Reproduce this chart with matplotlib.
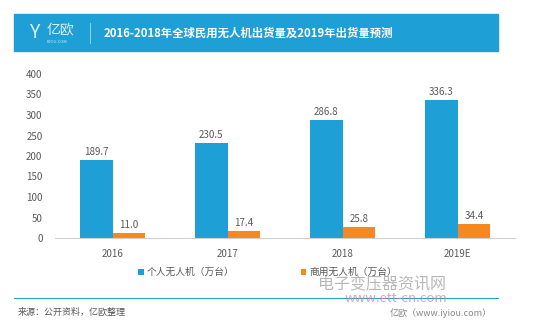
import matplotlib
matplotlib.use('Agg')
from matplotlib import pyplot as plt
from matplotlib.patches import Rectangle
import numpy as np

plt.rcParams['font.family'] = ['Noto Sans CJK SC', 'DejaVu Sans']

years = ['2016', '2017', '2018', '2019E']
personal = [189.7, 230.5, 286.8, 336.3]
commercial = [11.0, 17.4, 25.8, 34.4]
series_names = ['个人无人机（万台）', '商用无人机（万台）']
title = '2016-2018年全球民用无人机出货量及2019年出货量预测'

blue = '#1e9fd6'
orange = '#f5891f'
grey = '#595959'

fig = plt.figure(figsize=(5.41, 3.31), dpi=100)

# banner
fig.patches.append(Rectangle((14 / 541, 1 - 51 / 331), 484 / 541, 37 / 331,
                             transform=fig.transFigure, color=blue, zorder=0))
fig.text(47 / 541, 1 - 30 / 331, '亿欧', color='white', fontsize=10,
         va='center', ha='left', alpha=0.85)
fig.text(47 / 541, 1 - 42 / 331, 'IYIOU.COM', color='white', fontsize=3,
         va='center', ha='left', alpha=0.8)
fig.text(34 / 541, 1 - 33 / 331, 'Y', color='white', fontsize=14,
         va='center', ha='center', alpha=0.85)
fig.add_artist(plt.Line2D([90 / 541, 90 / 541], [1 - 43 / 331, 1 - 23 / 331],
                          transform=fig.transFigure, color='white', lw=0.6, alpha=0.6))
fig.text(104 / 541, 1 - 33 / 331, title, color='white', fontsize=8.2,
         fontweight='bold', va='center', ha='left')

ax = fig.add_axes([55 / 541, 1 - 238 / 331, 460 / 541, 164 / 331])
x = np.arange(len(years))
w = 0.286
b1 = ax.bar(x - w / 2, personal, w, color=blue, label=series_names[0])
b2 = ax.bar(x + w / 2, commercial, w, color=orange, label=series_names[1])
for bars, vals in ((b1, personal), (b2, commercial)):
    for r, v in zip(bars, vals):
        ax.text(r.get_x() + r.get_width() / 2, v + 8, '%.1f' % v,
                ha='center', va='bottom', fontsize=7, color=grey)

ax.set_xlim(-0.5, 3.5)
ax.set_ylim(0, 400)
ax.set_yticks(np.arange(0, 401, 50))
ax.set_xticks(x)
ax.set_xticklabels(years)
for s in ['top', 'right', 'left']:
    ax.spines[s].set_visible(False)
ax.spines['bottom'].set_color('#d0d0d0')
ax.tick_params(axis='both', length=0, labelsize=7, colors=grey)
ax.tick_params(axis='y', pad=9)
ax.tick_params(axis='x', pad=8)

ax.legend(loc='upper center', bbox_to_anchor=(0.462, -0.125), ncol=2,
          frameon=False, fontsize=7, handlelength=0.6, handleheight=0.6,
          columnspacing=6.8, handletextpad=0.3, labelcolor=grey)

# footer
fig.add_artist(plt.Line2D([14 / 541, 498 / 541], [1 - 298 / 331, 1 - 298 / 331],
                          transform=fig.transFigure, color=blue, lw=0.8))
fig.text(18 / 541, 1 - 312 / 331, '来源：公开资料，亿欧整理', fontsize=6.5,
         color=grey, va='center', ha='left')
fig.text(492 / 541, 1 - 313 / 331, '亿欧（www.iyiou.com）', fontsize=6.5,
         color='#888888', va='center', ha='right')

# watermark
fig.text(318 / 541, 1 - 285 / 331, '电子变压器资讯网', fontsize=11.5,
         color='#9a9a9a', alpha=0.7, va='center', ha='left')
fig.text(345 / 541, 1 - 299 / 331, 'www.ett-cn.com', fontsize=9.5,
         color='#e07a8a', alpha=0.7, va='center', ha='left')

plt.savefig('out.png', dpi=100)
